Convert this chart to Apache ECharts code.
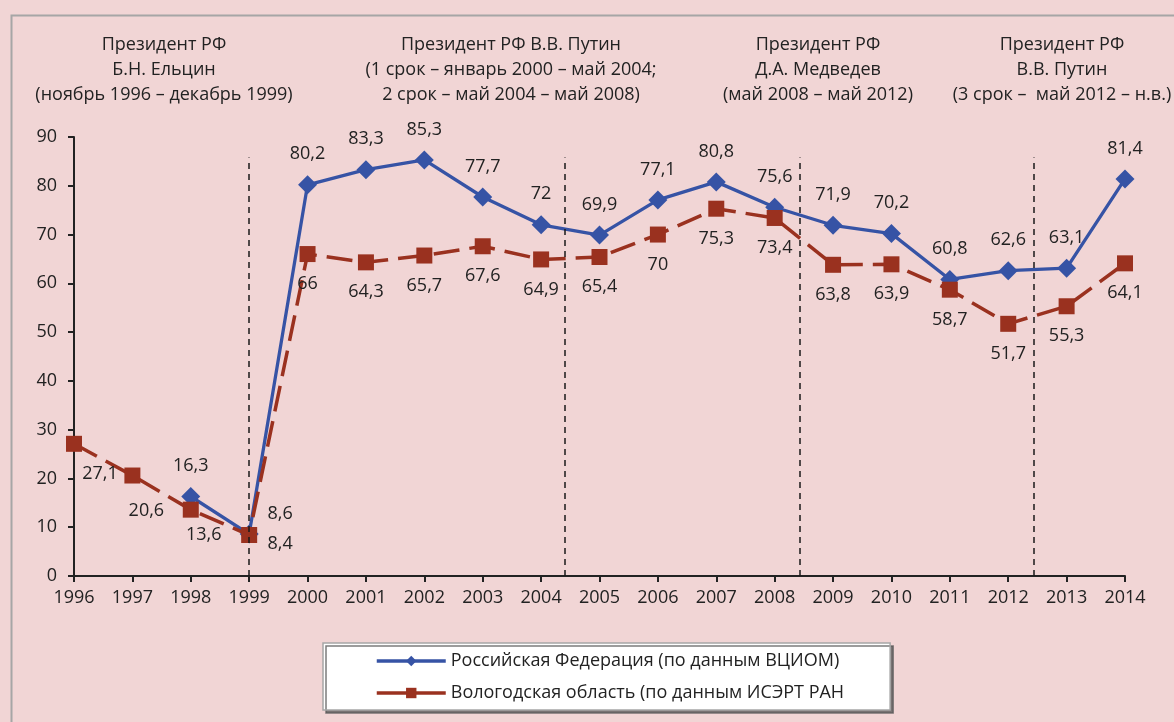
<!DOCTYPE html>
<html><head><meta charset="utf-8">
<script src="https://cdn.jsdelivr.net/npm/echarts@6/dist/echarts.min.js"></script>
<style>html,body{margin:0;padding:0;background:#f1d5d5;}#c{width:1174px;height:722px;}</style>
</head><body><div id="c"></div>
<script>
const years = [1996,1997,1998,1999,2000,2001,2002,2003,2004,2005,2006,2007,2008,2009,2010,2011,2012,2013,2014];
const russia = [null,null,16.3,8.6,80.2,83.3,85.3,77.7,72,69.9,77.1,80.8,75.6,71.9,70.2,60.8,62.6,63.1,81.4];
const vologda = [27.1,20.6,13.6,8.4,66,64.3,65.7,67.6,64.9,65.4,70,75.3,73.4,63.8,63.9,58.7,51.7,55.3,64.1];
const russiaName = 'Российская Федерация (по данным ВЦИОМ)';
const vologdaName = 'Вологодская область (по данным ИСЭРТ РАН';
const termBoundaries = [1999, 2004.4, 2008.43, 2012.43];
const headers = [
  ['Президент РФ','Б.Н. Ельцин','(ноябрь 1996 – декабрь 1999)'],
  ['Президент РФ В.В. Путин','(1 срок – январь 2000 – май 2004;','2 срок – май 2004 – май 2008)'],
  ['Президент РФ','Д.А. Медведев','(май 2008 – май 2012)'],
  ['Президент РФ','В.В. Путин','(3 срок –  май 2012 – н.в.)']
];
const yTicks = [0,10,20,30,40,50,60,70,80,90];

// label placement (style only)
const headerX = [164, 511, 818, 1062];
const russiaLabelOffsets = {1999:[31,10]};
const vologdaLabelOffsets = {1996:[26,0],1997:[14,5],1998:[13,-5],1999:[31,-21]};

const FONT = 'Open Sans';
const FS = 18;
const TXT = '#222222';
const fmt = v => String(v).replace('.', ',');

function buildData(vals, offsets){
  const out = [];
  years.forEach((y,i)=>{
    if (vals[i] == null) return;
    const item = {value:[y, vals[i]]};
    if (offsets[y]) item.label = {offset: offsets[y]};
    out.push(item);
  });
  return out;
}

const chart = echarts.init(document.getElementById('c'), null, {renderer:'canvas'});
const graphics = [
  {type:'rect', left:9, top:13, shape:{width:1300, height:900}, style:{fill:'none', stroke:'#a6a6a6', lineWidth:2}, silent:true}
];
headers.forEach((lines, gi)=>{
  lines.forEach((t, li)=>{
    graphics.push({type:'text', x:headerX[gi], y:45 + li*25, style:{text:t, fill:TXT, font:FS+'px "'+FONT+'"', textAlign:'center', textVerticalAlign:'middle'}, silent:true});
  });
});

chart.setOption({
  backgroundColor:'#f1d5d5',
  animation:false,
  textStyle:{fontFamily:FONT},
  graphic:graphics,
  grid:{left:74, right:49, top:137, bottom:146},
  xAxis:{type:'value', min:1996, max:2014, interval:1,
    axisLine:{lineStyle:{color:TXT, width:2}},
    axisTick:{show:true, length:6, lineStyle:{color:TXT, width:2}},
    splitLine:{show:false},
    axisLabel:{formatter:v=>String(v), color:TXT, fontSize:FS, margin:13, fontFamily:FONT}
  },
  yAxis:{type:'value', min:0, max:90, interval:10,
    axisLine:{show:true, lineStyle:{color:TXT, width:2}},
    axisTick:{show:true, length:6, lineStyle:{color:TXT, width:2}},
    splitLine:{show:false},
    axisLabel:{formatter:v=>yTicks.includes(v)?String(v):'', color:TXT, fontSize:FS, margin:17, fontFamily:FONT}
  },
  legend:{
    orient:'vertical', left:323, top:643,
    backgroundColor:'#ffffff', borderColor:'#a6a6a6', borderWidth:1.5,
    shadowColor:'rgba(90,90,90,0.8)', shadowBlur:0, shadowOffsetX:3, shadowOffsetY:3,
    padding:[9,46,8,52], itemGap:14, itemWidth:69, itemHeight:13,
    textStyle:{color:TXT, fontSize:FS, fontFamily:FONT},
    lineStyle:{type:'solid', width:3.5},
    data:[russiaName, vologdaName]
  },
  series:[
    {name:russiaName, type:'line', data:buildData(russia, russiaLabelOffsets),
      symbol:'diamond', symbolSize:19, z:3,
      lineStyle:{color:'#3653a5', width:3.3},
      itemStyle:{color:'#3653a5'},
      label:{show:true, position:'top', distance:12, color:TXT, fontSize:FS, fontFamily:FONT, formatter:p=>fmt(p.value[1])},
      markLine:{silent:true, symbol:['none','none'], label:{show:false},
        lineStyle:{color:'#1a1a1a', type:[6,5], width:1.5},
        data: termBoundaries.map(x=>[{coord:[x,0]},{coord:[x,85.8]}])
      }
    },
    {name:vologdaName, type:'line', data:buildData(vologda, vologdaLabelOffsets),
      symbol:'rect', symbolSize:16, z:4,
      lineStyle:{color:'#9a311f', width:3.5, type:[26,10]},
      itemStyle:{color:'#9a311f'},
      label:{show:true, position:'bottom', distance:13, color:TXT, fontSize:FS, fontFamily:FONT, formatter:p=>fmt(p.value[1])}
    }
  ]
});
</script></body></html>
